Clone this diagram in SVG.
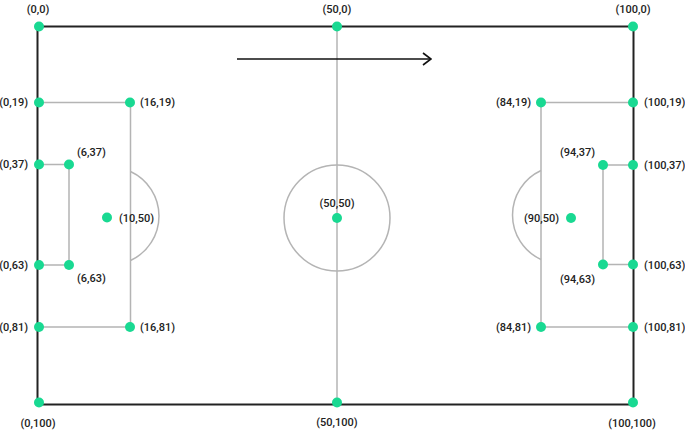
<svg xmlns="http://www.w3.org/2000/svg" width="685" height="431" viewBox="0 0 685 431">
<style>
.bg{fill:#ffffff}
.border{fill:none;stroke:#222222;stroke-width:2}
.line{fill:none;stroke:#b4b4b4;stroke-width:1.5}
.arrow{fill:none;stroke:#111111;stroke-width:1.6}
.node{fill:#19d992}
text{font-family:Roboto,"Liberation Sans",sans-serif;font-size:11px;fill:#222222;font-weight:500}
.m{text-anchor:middle}
.e{text-anchor:end}
</style>
<defs>
<marker id="chev" viewBox="0 0 10 14" refX="9" refY="7" markerWidth="10" markerHeight="14" markerUnits="userSpaceOnUse" orient="auto">
<path d="M1,1 L9,7 L1,13" fill="none" stroke="#111111" stroke-width="1.6"/>
</marker>
</defs>
<rect class="bg" x="0" y="0" width="685" height="431"/>
<g id="connectors">
<rect class="border" x="37.5" y="26.5" width="596" height="378"/>
<line class="line" x1="337" y1="27" x2="337" y2="403"/>
<circle class="line" cx="337" cy="218" r="53"/>
<polyline class="line" points="39,102.5 130.5,102.5 130.5,327 39,327"/>
<polyline class="line" points="39,164.5 69,164.5 69,265 39,265"/>
<path class="line" d="M130.5,171.5 A49,49 0 0 1 130.5,260.5"/>
<polyline class="line" points="633,102.5 541,102.5 541,327 633,327"/>
<polyline class="line" points="633,165 603,165 603,264.5 633,264.5"/>
<path class="line" d="M541,170.5 A49,49 0 0 0 541,259.5"/>
<line class="arrow" x1="237" y1="59" x2="431" y2="59" marker-end="url(#chev)"/>
</g>
<g id="n0_0"><circle class="node" cx="39" cy="26.5" r="5"/><text class="m" x="38" y="13">(0,0)</text></g>
<g id="n50_0"><circle class="node" cx="337" cy="26.5" r="5"/><text class="m" x="337" y="13">(50,0)</text></g>
<g id="n100_0"><circle class="node" cx="633" cy="26.5" r="5"/><text class="m" x="633" y="13">(100,0)</text></g>
<g id="n0_19"><circle class="node" cx="39" cy="102.5" r="5"/><text class="e" x="28" y="106">(0,19)</text></g>
<g id="n16_19"><circle class="node" cx="130" cy="102.5" r="5"/><text x="140" y="106">(16,19)</text></g>
<g id="n0_37"><circle class="node" cx="39" cy="164.5" r="5"/><text class="e" x="28" y="168">(0,37)</text></g>
<g id="n6_37"><circle class="node" cx="69" cy="164.5" r="5"/><text x="77" y="156">(6,37)</text></g>
<g id="n10_50"><circle class="node" cx="107" cy="217.5" r="5"/><text x="119" y="221.5">(10,50)</text></g>
<g id="n0_63"><circle class="node" cx="39" cy="265" r="5"/><text class="e" x="28" y="269">(0,63)</text></g>
<g id="n6_63"><circle class="node" cx="69" cy="265" r="5"/><text x="77" y="282">(6,63)</text></g>
<g id="n0_81"><circle class="node" cx="39" cy="327" r="5"/><text class="e" x="28" y="331">(0,81)</text></g>
<g id="n16_81"><circle class="node" cx="130" cy="327" r="5"/><text x="140" y="331">(16,81)</text></g>
<g id="n0_100"><circle class="node" cx="39" cy="402.5" r="5"/><text class="m" x="38" y="427">(0,100)</text></g>
<g id="n50_50"><circle class="node" cx="337" cy="218" r="5"/><text class="m" x="337" y="207">(50,50)</text></g>
<g id="n50_100"><circle class="node" cx="337" cy="402.5" r="5"/><text class="m" x="337" y="426">(50,100)</text></g>
<g id="n100_100"><circle class="node" cx="633" cy="402.5" r="5"/><text class="m" x="632" y="427">(100,100)</text></g>
<g id="n84_19"><circle class="node" cx="541" cy="102.5" r="5"/><text class="e" x="531" y="106">(84,19)</text></g>
<g id="n100_19"><circle class="node" cx="633" cy="102.5" r="5"/><text x="644" y="106">(100,19)</text></g>
<g id="n94_37"><circle class="node" cx="603" cy="165" r="5"/><text class="e" x="595" y="156">(94,37)</text></g>
<g id="n100_37"><circle class="node" cx="633" cy="165" r="5"/><text x="644" y="169">(100,37)</text></g>
<g id="n90_50"><circle class="node" cx="571" cy="218" r="5"/><text class="e" x="559" y="222">(90,50)</text></g>
<g id="n94_63"><circle class="node" cx="603" cy="264.5" r="5"/><text class="e" x="595" y="283">(94,63)</text></g>
<g id="n100_63"><circle class="node" cx="633" cy="264.5" r="5"/><text x="644" y="269">(100,63)</text></g>
<g id="n84_81"><circle class="node" cx="541" cy="327" r="5"/><text class="e" x="531" y="331">(84,81)</text></g>
<g id="n100_81"><circle class="node" cx="633" cy="327" r="5"/><text x="644" y="331">(100,81)</text></g>
</svg>
